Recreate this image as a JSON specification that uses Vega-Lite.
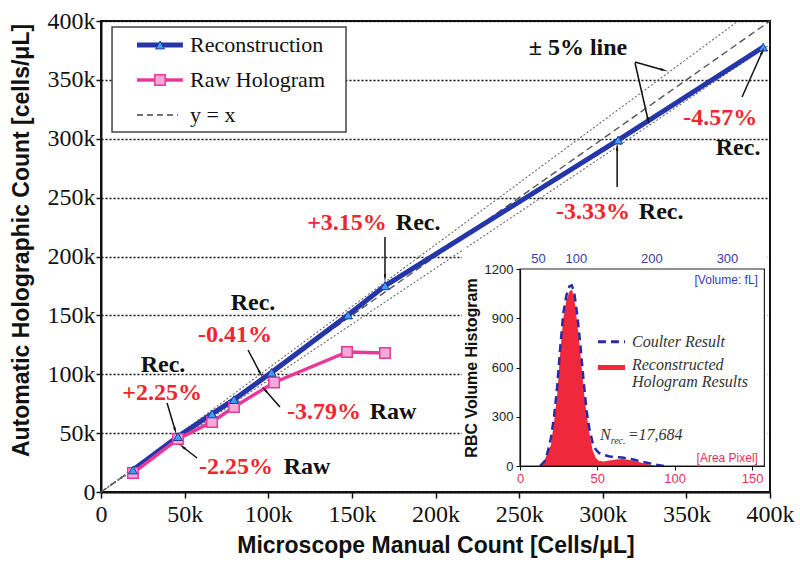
{
  "$schema": "https://vega.github.io/schema/vega-lite/v6.json",
  "width": 669,
  "height": 471,
  "autosize": {"type": "none"},
  "padding": {"left": 101, "top": 21, "right": 30, "bottom": 83},
  "background": "white",
  "config": {"view": {"stroke": "#111", "strokeWidth": 2}},
  "datasets": {
    "refs": [
      {"s": "y = x", "x": 0, "y": 0}, {"s": "y = x", "x": 400, "y": 400},
      {"s": "+5%", "x": 0, "y": 0}, {"s": "+5%", "x": 380.95, "y": 400},
      {"s": "-5%", "x": 0, "y": 0}, {"s": "-5%", "x": 400, "y": 380}
    ],
    "rec": [
      {"x": 19.1, "y": 18.7}, {"x": 46.0, "y": 47.0}, {"x": 66.4, "y": 66.3},
      {"x": 79.5, "y": 78.5}, {"x": 102.0, "y": 101.6}, {"x": 147.7, "y": 150.3},
      {"x": 169.8, "y": 175.1}, {"x": 309.2, "y": 298.9}, {"x": 395.9, "y": 377.8}
    ],
    "raw": [
      {"x": 19.1, "y": 16.1}, {"x": 46.0, "y": 45.0}, {"x": 66.4, "y": 59.5},
      {"x": 79.5, "y": 72.2}, {"x": 103.5, "y": 93.0}, {"x": 147.1, "y": 118.9},
      {"x": 169.8, "y": 118.1}
    ],
    "arrows": [
      {"x": 319.3, "y": 365.2, "x2": 336.1, "y2": 358.4},
      {"x": 319.3, "y": 364.3, "x2": 327.1, "y2": 315.9},
      {"x": 383.3, "y": 335.5, "x2": 395.3, "y2": 373.7},
      {"x": 308.6, "y": 259.0, "x2": 308.6, "y2": 292.2},
      {"x": 169.8, "y": 216.6, "x2": 169.8, "y2": 182.6},
      {"x": 87.9, "y": 120.6, "x2": 95.1, "y2": 101.1},
      {"x": 107.0, "y": 72.2, "x2": 98.1, "y2": 86.6},
      {"x": 39.5, "y": 75.6, "x2": 44.3, "y2": 52.7},
      {"x": 57.4, "y": 28.9, "x2": 49.0, "y2": 38.2}
    ],
    "notes": [
      {"t": "± 5% line", "x": 285.2, "y": 377.1, "k": "tag"},
      {"t": "-4.57%", "x": 370.2, "y": 317.6, "k": "pct"},
      {"t": "Rec.", "x": 380.9, "y": 292.2, "k": "tag"},
      {"t": "-3.33%", "x": 294.2, "y": 237.8, "k": "pct"},
      {"t": "Rec.", "x": 334.9, "y": 237.8, "k": "tag"},
      {"t": "+3.15%", "x": 147.1, "y": 228.5, "k": "pct"},
      {"t": "Rec.", "x": 189.6, "y": 228.5, "k": "tag"},
      {"t": "Rec.", "x": 90.9, "y": 160.5, "k": "tag"},
      {"t": "-0.41%", "x": 80.1, "y": 133.3, "k": "pct"},
      {"t": "-3.79%", "x": 133.4, "y": 67.9, "k": "pct"},
      {"t": "Raw", "x": 174.6, "y": 67.9, "k": "tag"},
      {"t": "Rec.", "x": 37.1, "y": 107.9, "k": "tag"},
      {"t": "+2.25%", "x": 36.5, "y": 84.1, "k": "pct"},
      {"t": "-2.25%", "x": 80.7, "y": 21.2, "k": "pct"},
      {"t": "Raw", "x": 123.2, "y": 21.2, "k": "tag"}
    ],
    "legbox": [{"x": 6.6, "x2": 146.5, "y": 394.9, "y2": 305.7}],
    "leg": [
      {"s": "Reconstruction", "x": 21.5, "x2": 49, "xm": 35.3, "xt": 52, "y": 379.6},
      {"s": "Raw Hologram", "x": 21.5, "x2": 49, "xm": 35.3, "xt": 52, "y": 349.9},
      {"s": "y = x", "x": 21.5, "x2": 46, "xm": 48, "xt": 52, "y": 320.2}
    ],
    "hist": [
      {"s": "recon", "A": 12, "C": 0}, {"s": "recon", "A": 14, "C": 10}, {"s": "recon", "A": 16, "C": 40},
      {"s": "recon", "A": 18, "C": 80}, {"s": "recon", "A": 20, "C": 130}, {"s": "recon", "A": 22, "C": 270},
      {"s": "recon", "A": 24, "C": 430}, {"s": "recon", "A": 26, "C": 690}, {"s": "recon", "A": 28, "C": 900},
      {"s": "recon", "A": 30, "C": 1010}, {"s": "recon", "A": 32, "C": 1065}, {"s": "recon", "A": 33.5, "C": 1075},
      {"s": "recon", "A": 35, "C": 1030}, {"s": "recon", "A": 37, "C": 870}, {"s": "recon", "A": 39, "C": 690},
      {"s": "recon", "A": 41, "C": 480}, {"s": "recon", "A": 43, "C": 320}, {"s": "recon", "A": 45, "C": 190},
      {"s": "recon", "A": 47, "C": 95}, {"s": "recon", "A": 49, "C": 48}, {"s": "recon", "A": 51, "C": 32},
      {"s": "recon", "A": 54, "C": 28}, {"s": "recon", "A": 58, "C": 34}, {"s": "recon", "A": 62, "C": 40},
      {"s": "recon", "A": 66, "C": 42}, {"s": "recon", "A": 70, "C": 38}, {"s": "recon", "A": 74, "C": 31},
      {"s": "recon", "A": 78, "C": 22}, {"s": "recon", "A": 82, "C": 12}, {"s": "recon", "A": 86, "C": 4},
      {"s": "recon", "A": 88, "C": 0},
      {"s": "coulter", "A": 13, "C": 0}, {"s": "coulter", "A": 16, "C": 30}, {"s": "coulter", "A": 18, "C": 90},
      {"s": "coulter", "A": 20, "C": 170}, {"s": "coulter", "A": 22, "C": 300}, {"s": "coulter", "A": 24, "C": 480},
      {"s": "coulter", "A": 26, "C": 720}, {"s": "coulter", "A": 28, "C": 930}, {"s": "coulter", "A": 30, "C": 1040},
      {"s": "coulter", "A": 32, "C": 1095}, {"s": "coulter", "A": 33.5, "C": 1100}, {"s": "coulter", "A": 35, "C": 1060},
      {"s": "coulter", "A": 37, "C": 920}, {"s": "coulter", "A": 39, "C": 740}, {"s": "coulter", "A": 41, "C": 530},
      {"s": "coulter", "A": 43, "C": 340}, {"s": "coulter", "A": 45, "C": 220}, {"s": "coulter", "A": 47, "C": 140},
      {"s": "coulter", "A": 49, "C": 100}, {"s": "coulter", "A": 51, "C": 80}, {"s": "coulter", "A": 54, "C": 68},
      {"s": "coulter", "A": 58, "C": 58}, {"s": "coulter", "A": 62, "C": 55}, {"s": "coulter", "A": 66, "C": 52},
      {"s": "coulter", "A": 70, "C": 45}, {"s": "coulter", "A": 74, "C": 38}, {"s": "coulter", "A": 78, "C": 28},
      {"s": "coulter", "A": 82, "C": 20}, {"s": "coulter", "A": 86, "C": 12}, {"s": "coulter", "A": 90, "C": 5},
      {"s": "coulter", "A": 93, "C": 0}
    ],
    "insetbg": [{"A": -37.5, "A2": 160, "C": 1328, "C2": -134}],
    "insetframe": [{"A": 0, "A2": 158, "C": 0, "C2": 1200}],
    "insleg": [{"A": 50.4, "A2": 67.9, "C": 757, "C2": 757, "s": "coulter"}, {"A": 50.4, "A2": 67.9, "C": 585, "C2": 615, "s": "recon"}],
    "itext": [
      {"t": "Coulter Result", "A": 72.4, "C": 757, "k": "lab"},
      {"t": "Reconstructed", "A": 72.4, "C": 614, "k": "lab"},
      {"t": "Hologram Results", "A": 72.4, "C": 514, "k": "lab"},
      {"t": "N", "A": 51.7, "C": 189, "k": "lab"},
      {"t": "=17,684", "A": 69.6, "C": 189, "k": "lab"},
      {"t": "rec.", "A": 58.6, "C": 150, "k": "sub"},
      {"t": "[Volume: fL]", "A": 153.8, "C": 1133, "k": "vol"},
      {"t": "[Area Pixel]", "A": 153.8, "C": 49, "k": "area"}
    ]
  },
  "layer": [
    {
      "encoding": {
        "x": {
          "field": "x", "type": "quantitative",
          "scale": {"domain": [0, 400], "nice": false, "zero": false},
          "axis": {
            "orient": "bottom", "values": [0, 50, 100, 150, 200, 250, 300, 350, 400],
            "labelExpr": "datum.value == 0 ? '0' : datum.value + 'k'",
            "title": "Microscope Manual Count [Cells/μL]",
            "titleFont": "Liberation Sans", "titleFontWeight": "bold", "titleFontSize": 23, "titleColor": "#111", "titlePadding": 8,
            "labelFont": "Liberation Serif", "labelFontSize": 24, "labelColor": "#111", "labelPadding": 4,
            "labelFlush": false, "labelOverlap": false,
            "tickSize": 6, "tickColor": "#111", "tickWidth": 1.5, "domainColor": "#111", "domainWidth": 2, "grid": false
          }
        },
        "y": {
          "field": "y", "type": "quantitative",
          "scale": {"domain": [0, 400], "nice": false, "zero": false},
          "axis": {
            "orient": "left", "values": [0, 50, 100, 150, 200, 250, 300, 350, 400],
            "labelExpr": "datum.value == 0 ? '0' : datum.value + 'k'",
            "title": "Automatic Holographic Count [cells/μL]",
            "titleFont": "Liberation Sans", "titleFontWeight": "bold", "titleFontSize": 23, "titleColor": "#111",
            "titleX": -80, "titleY": 219, "titleAngle": -90, "titleBaseline": "middle", "titleAlign": "center",
            "labelFont": "Liberation Serif", "labelFontSize": 24, "labelColor": "#111", "labelPadding": 1,
            "labelFlush": false, "labelOverlap": false,
            "tickSize": 5, "tickColor": "#111", "tickWidth": 1.5, "domainColor": "#111", "domainWidth": 2,
            "grid": true, "gridDash": [2, 2], "gridColor": "#111", "gridWidth": 1.3, "gridOpacity": 1
          }
        }
      },
      "layer": [
        {"data": {"name": "refs"}, "transform": [{"filter": "datum.s != 'y = x'"}],
         "mark": {"type": "line", "color": "#6a6a6a", "strokeWidth": 1.1, "strokeDash": [2, 2]},
         "encoding": {"detail": {"field": "s"}}},
        {"data": {"name": "refs"}, "transform": [{"filter": "datum.s == 'y = x'"}],
         "mark": {"type": "line", "color": "#555", "strokeWidth": 1.4, "strokeDash": [7, 4]},
         "encoding": {}},
        {"data": {"name": "rec"}, "mark": {"type": "line", "color": "#2536a8", "strokeWidth": 5}, "encoding": {}},
        {"data": {"name": "raw"}, "mark": {"type": "line", "color": "#e8389a", "strokeWidth": 3.5}, "encoding": {}},
        {"data": {"name": "raw"}, "mark": {"type": "point", "shape": "square", "filled": true, "size": 110, "fill": "#f7a8d8", "stroke": "#e8389a", "strokeWidth": 1.5, "opacity": 1}, "encoding": {}},
        {"data": {"name": "rec"}, "mark": {"type": "point", "shape": "triangle-up", "filled": true, "size": 80, "fill": "#3aa0f0", "stroke": "#2536a8", "strokeWidth": 1, "opacity": 1}, "encoding": {}},
        {"data": {"name": "arrows"}, "mark": {"type": "rule", "color": "#111", "strokeWidth": 1.5},
         "encoding": {"x2": {"field": "x2"}, "y2": {"field": "y2"}}},
        {"data": {"name": "arrows"},
         "transform": [{"calculate": "atan2((datum.x2 - datum.x) * 1.6725, (datum.y2 - datum.y) * 1.1775) * 180 / PI", "as": "ang"}],
         "mark": {"type": "point", "shape": "wedge", "filled": true, "size": 90, "color": "#111", "opacity": 1},
         "encoding": {"x": {"field": "x2", "type": "quantitative"}, "y": {"field": "y2", "type": "quantitative"}, "angle": {"field": "ang", "type": "quantitative", "scale": null}}},
        {"data": {"name": "notes"}, "mark": {"type": "text", "font": "Liberation Serif", "fontWeight": "bold", "fontSize": 24, "align": "center", "baseline": "middle"},
         "encoding": {"text": {"field": "t"}, "color": {"field": "k", "type": "nominal", "scale": {"domain": ["pct", "tag"], "range": ["#f0262f", "#111111"]}, "legend": null}}},
        {"data": {"name": "legbox"}, "mark": {"type": "rect", "fill": "white", "stroke": "#444", "strokeWidth": 1.5},
         "encoding": {"x2": {"field": "x2"}, "y2": {"field": "y2"}}},
        {"data": {"name": "leg"}, "transform": [{"filter": "datum.s == 'Reconstruction'"}], "mark": {"type": "rule", "color": "#2536a8", "strokeWidth": 5},
         "encoding": {"x2": {"field": "x2"}}},
        {"data": {"name": "leg"}, "transform": [{"filter": "datum.s == 'Raw Hologram'"}], "mark": {"type": "rule", "color": "#e8389a", "strokeWidth": 3.5},
         "encoding": {"x2": {"field": "x2"}}},
        {"data": {"name": "leg"}, "transform": [{"filter": "datum.s == 'y = x'"}], "mark": {"type": "rule", "color": "#444", "strokeWidth": 1.6, "strokeDash": [6, 4]},
         "encoding": {"x2": {"field": "x2"}}},
        {"data": {"name": "leg"}, "transform": [{"filter": "datum.s == 'Reconstruction'"}],
         "mark": {"type": "point", "shape": "triangle-up", "filled": true, "size": 80, "fill": "#3aa0f0", "stroke": "#2536a8", "strokeWidth": 1, "opacity": 1},
         "encoding": {"x": {"field": "xm", "type": "quantitative"}}},
        {"data": {"name": "leg"}, "transform": [{"filter": "datum.s == 'Raw Hologram'"}],
         "mark": {"type": "point", "shape": "square", "filled": true, "size": 110, "fill": "#f7a8d8", "stroke": "#e8389a", "strokeWidth": 1.5, "opacity": 1},
         "encoding": {"x": {"field": "xm", "type": "quantitative"}}},
        {"data": {"name": "leg"}, "mark": {"type": "text", "font": "Liberation Serif", "fontSize": 22, "align": "left", "baseline": "middle", "color": "#111", "dx": 2},
         "encoding": {"x": {"field": "xt", "type": "quantitative"}, "text": {"field": "s"}}}
      ]
    },
    {
      "encoding": {
        "x": {
          "field": "A", "type": "quantitative",
          "scale": {"domain": [0, 158], "range": [419, 663.4], "nice": false, "zero": false},
          "axis": {
            "orient": "bottom", "offset": -26, "values": [0, 50, 100, 150], "title": null,
            "labelFont": "Liberation Sans", "labelFontSize": 13, "labelColor": "#e8305a", "labelPadding": 2,
            "labelFlush": false, "labelOverlap": false,
            "tickSize": 4, "tickColor": "#111", "domainColor": "#111", "domainWidth": 1.2, "grid": false, "zindex": 1
          }
        },
        "y": {
          "field": "C", "type": "quantitative",
          "scale": {"domain": [0, 1200], "range": [445, 248], "nice": false, "zero": false},
          "axis": {
            "orient": "left", "offset": -419, "values": [0, 300, 600, 900, 1200], "format": "d",
            "title": "RBC Volume Histogram", "titleFont": "Liberation Sans", "titleFontWeight": "bold", "titleFontSize": 16, "titleColor": "#111", "titlePadding": 5,
            "labelFont": "Liberation Sans", "labelFontSize": 13, "labelColor": "#222", "labelPadding": 3,
            "labelFlush": false, "labelOverlap": false,
            "tickSize": 4, "tickColor": "#111", "domainColor": "#111", "domainWidth": 1.2, "grid": false, "zindex": 1
          }
        }
      },
      "layer": [
        {"data": {"name": "insetbg"}, "mark": {"type": "rect", "fill": "white", "strokeWidth": 0},
         "encoding": {"x2": {"field": "A2"}, "y2": {"field": "C2"}}},
        {"data": {"name": "hist"}, "transform": [{"filter": "datum.s == 'recon'"}],
         "mark": {"type": "area", "color": "#f0283c", "opacity": 1},
         "encoding": {"y2": {"datum": 0}}},
        {"data": {"name": "hist"}, "transform": [{"filter": "datum.s == 'coulter'"}],
         "mark": {"type": "line", "color": "#2a2aa8", "strokeWidth": 2.5, "strokeDash": [8, 5]},
         "encoding": {}},
        {"data": {"name": "insetframe"}, "mark": {"type": "rect", "fillOpacity": 0, "stroke": "#222", "strokeWidth": 1.2},
         "encoding": {"x2": {"field": "A2"}, "y2": {"field": "C2"}}},
        {"data": {"name": "insleg"}, "transform": [{"filter": "datum.s == 'coulter'"}],
         "mark": {"type": "rule", "color": "#2a2aa8", "strokeWidth": 3, "strokeDash": [8, 5]},
         "encoding": {"x2": {"field": "A2"}}},
        {"data": {"name": "insleg"}, "transform": [{"filter": "datum.s == 'recon'"}],
         "mark": {"type": "rect", "color": "#f0283c", "opacity": 1},
         "encoding": {"x2": {"field": "A2"}, "y2": {"field": "C2"}}},
        {"data": {"name": "itext"}, "transform": [{"filter": "datum.k == 'lab'"}],
         "mark": {"type": "text", "font": "Liberation Serif", "fontStyle": "italic", "fontSize": 16, "align": "left", "baseline": "middle", "color": "#333"},
         "encoding": {"text": {"field": "t"}}},
        {"data": {"name": "itext"}, "transform": [{"filter": "datum.k == 'sub'"}],
         "mark": {"type": "text", "font": "Liberation Serif", "fontStyle": "italic", "fontSize": 10, "align": "left", "baseline": "middle", "color": "#333"},
         "encoding": {"text": {"field": "t"}}},
        {"data": {"name": "itext"}, "transform": [{"filter": "datum.k == 'vol'"}],
         "mark": {"type": "text", "font": "Liberation Sans", "fontSize": 12, "align": "right", "baseline": "middle", "color": "#3a3aa8"},
         "encoding": {"text": {"field": "t"}}},
        {"data": {"name": "itext"}, "transform": [{"filter": "datum.k == 'area'"}],
         "mark": {"type": "text", "font": "Liberation Sans", "fontSize": 12, "align": "right", "baseline": "middle", "color": "#e8305a"},
         "encoding": {"text": {"field": "t"}}}
      ]
    },
    {
      "data": {"values": [{"V": 100}]},
      "mark": {"type": "point", "opacity": 0},
      "encoding": {
        "x": {
          "field": "V", "type": "quantitative",
          "scale": {"domain": [26.2, 349.5], "range": [419, 663.4], "nice": false, "zero": false},
          "axis": {
            "orient": "top", "offset": -248, "values": [50, 100, 200, 300], "title": null,
            "labelFont": "Liberation Sans", "labelFontSize": 13, "labelColor": "#3a3aa8", "labelPadding": 4,
            "labelFlush": false, "labelOverlap": false,
            "ticks": false, "domain": false, "grid": false, "zindex": 1
          }
        }
      }
    }
  ],
  "resolve": {
    "scale": {"x": "independent", "y": "independent"},
    "axis": {"x": "independent", "y": "independent"}
  }
}
